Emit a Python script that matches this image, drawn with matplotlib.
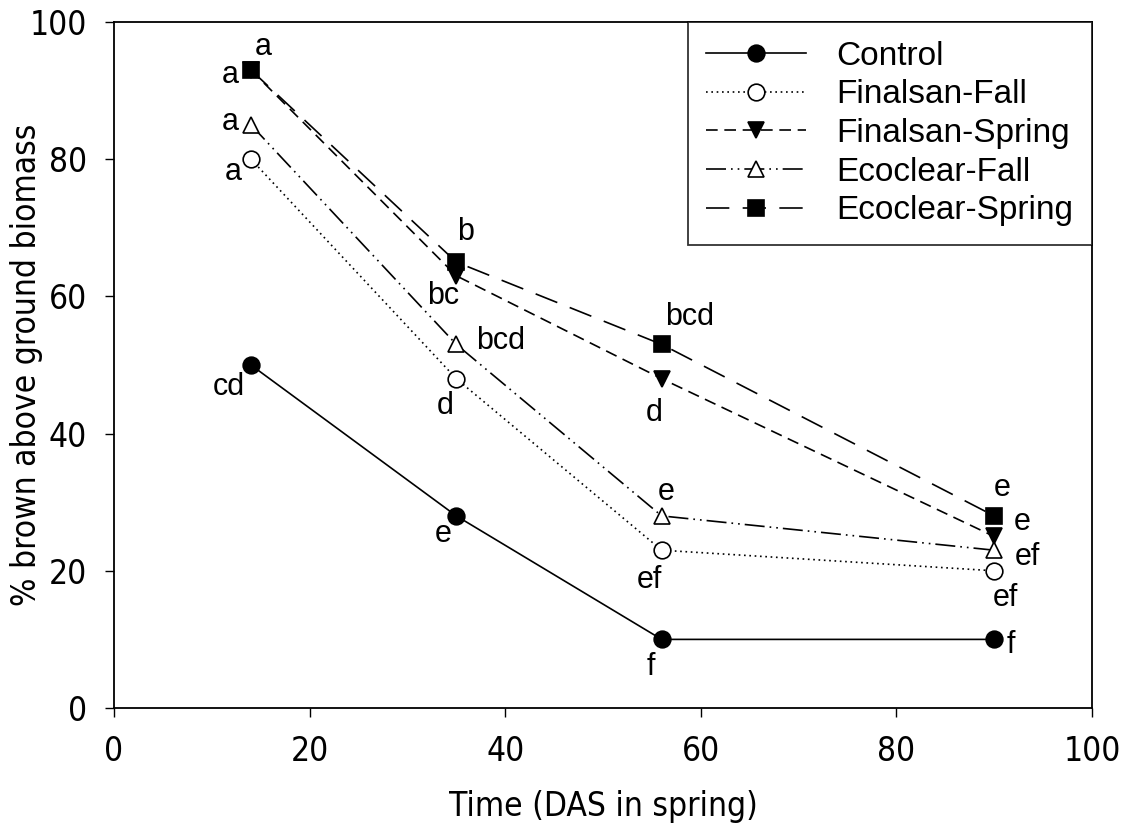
import matplotlib
matplotlib.use("Agg")
import matplotlib.pyplot as plt

# data
days = [14, 35, 56, 90]
control = [50, 28, 10, 10]
finalsan_fall = [80, 48, 23, 20]
finalsan_spring = [93, 63, 48, 25]
ecoclear_fall = [85, 53, 28, 23]
ecoclear_spring = [93, 65, 53, 28]

control_letters = ["cd", "e", "f", "f"]
finalsan_fall_letters = ["a", "d", "ef", "ef"]
finalsan_spring_letters = ["a", "bc", "d", "e"]
ecoclear_fall_letters = ["a", "bcd", "e", "ef"]
ecoclear_spring_letters = ["a", "b", "bcd", "e"]

# label offsets in pixels from each point (dx, dy)
control_offsets = [(-22, -22), (-13, -18), (-11, -28), (17, -6)]
finalsan_fall_offsets = [(-18, -13), (-11, -27), (-12, -30), (11, -27)]
finalsan_spring_offsets = [(-21, -5), (-13, -20), (-7, -34), (28, 14)]
ecoclear_fall_offsets = [(-21, 3), (44, 3), (5, 24), (33, -7)]
ecoclear_spring_offsets = [(12, 23), (9, 30), (28, 27), (8, 28)]

tahoma_like = ["DejaVu Sans"]
arial = ["Liberation Sans", "DejaVu Sans"]

fig = plt.figure(figsize=(11.29, 8.35), dpi=100)
ax = fig.add_axes([0.101, 0.1521, 0.8662, 0.8216])

series = [
    ("Control", control, "-", "o", "black", control_letters, control_offsets),
    ("Finalsan-Fall", finalsan_fall, (0, (1, 2.2)), "o", "white",
     finalsan_fall_letters, finalsan_fall_offsets),
    ("Finalsan-Spring", finalsan_spring, (0, (7, 4)), "v", "black",
     finalsan_spring_letters, finalsan_spring_offsets),
    ("Ecoclear-Fall", ecoclear_fall, (0, (12, 3, 1, 3, 1, 3)), "^", "white",
     ecoclear_fall_letters, ecoclear_fall_offsets),
    ("Ecoclear-Spring", ecoclear_spring, (0, (14, 8)), "s", "black",
     ecoclear_spring_letters, ecoclear_spring_offsets),
]

for name, vals, ls, mk, fc, letters, offs in series:
    ms = 11 if mk == "s" else 12
    ax.plot(days, vals, linestyle=ls, color="black", linewidth=1.2,
            marker=mk, markersize=ms, markerfacecolor=fc,
            markeredgecolor="black", markeredgewidth=1.2, label=name)
    for x, y, lab, (dx, dy) in zip(days, vals, letters, offs):
        ax.annotate(lab, xy=(x, y), xytext=(dx, dy), textcoords="offset pixels",
                    ha="center", va="center", fontsize=22, family=arial,
                    annotation_clip=False)

ax.set_xlim(0, 100)
ax.set_ylim(0, 100)
ax.set_xticks([0, 20, 40, 60, 80, 100])
ax.set_yticks([0, 20, 40, 60, 80, 100])
ax.tick_params(direction="out", length=6.5, width=1, top=False, right=False,
               pad=13)
for lab in ax.get_xticklabels() + ax.get_yticklabels():
    lab.set_fontsize(24)
    lab.set_family(tahoma_like)
    lab.set_stretch("condensed")
for sp in ax.spines.values():
    sp.set_linewidth(1.3)

ax.set_xlabel("Time (DAS in spring)", fontsize=24, family=tahoma_like,
              stretch="condensed", labelpad=16)
ax.set_ylabel("% brown above ground biomass", fontsize=24,
              family=tahoma_like, stretch="condensed")
ax.yaxis.set_label_coords(-0.0726, 0.5)

leg = ax.legend(loc="upper right", bbox_to_anchor=(1.0, 1.0), borderaxespad=0,
                prop={"family": arial, "size": 24}, frameon=True, fancybox=False,
                handlelength=3.0, handletextpad=0.9, labelspacing=0.23,
                borderpad=0.56, numpoints=1)
leg.get_frame().set_edgecolor("black")
leg.get_frame().set_linewidth(1.3)

fig.savefig("out.png", dpi=100)
